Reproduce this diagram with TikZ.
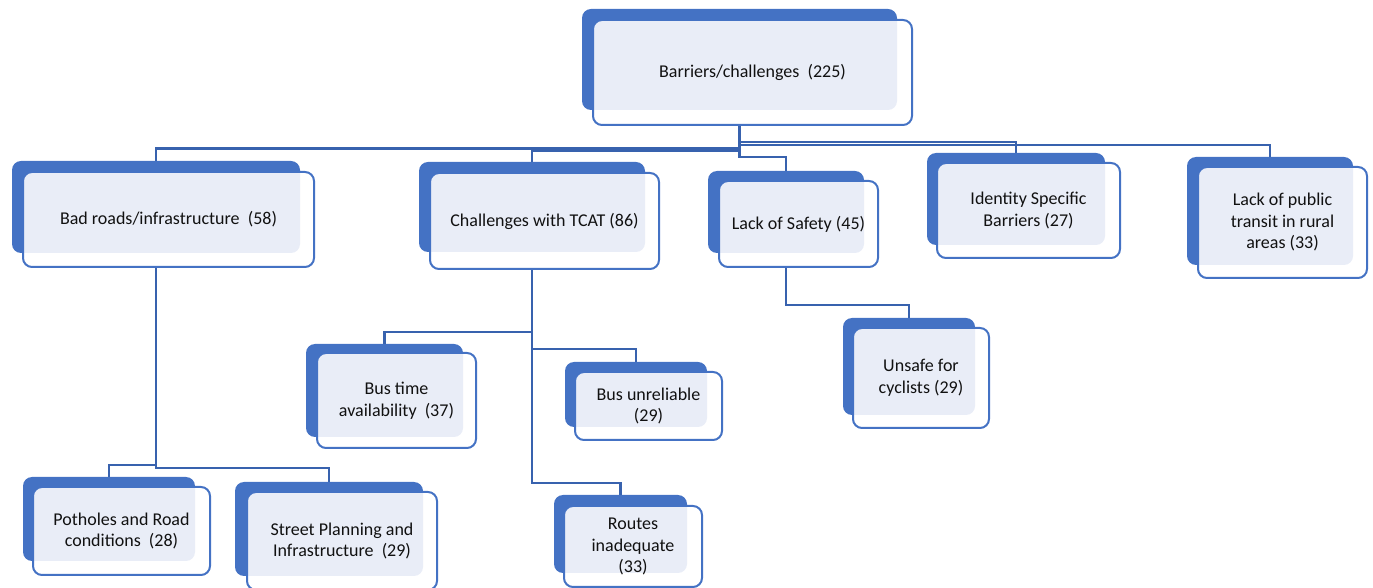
\documentclass[tikz,border=0pt]{standalone}
\usepackage{fontspec}
\setmainfont{Carlito}
\usetikzlibrary{fit,calc}
\pgfdeclarelayer{background}
\pgfsetlayers{background,main}
\definecolor{backc}{HTML}{4472C4}
\definecolor{lightc}{HTML}{E9EDF7}
\definecolor{connc}{HTML}{3862AE}
\definecolor{txtc}{HTML}{111111}
\newcommand\rc{4.5pt}
\newcommand\ebox[6]{%
  \node[backbox, fit={#2 #3}] (#1b) {};
  \fill[white, rounded corners=\rc] #4 rectangle #5;
  \begin{scope}
    \clip[rounded corners=\rc] #4 rectangle #5;
    \fill[lightc, rounded corners=\rc] #2 rectangle #3;
  \end{scope}
  \node[frontbox, fit={#4 #5}] (#1) {};
  \node[boxtext] (#1t) at (#1.center) {#6};
}
\tikzset{
  backbox/.style={fill=backc, rounded corners=\rc, inner sep=0pt, outer sep=0pt},
  frontbox/.style={draw=backc, line width=1pt, rounded corners=\rc, inner sep=0pt, outer sep=0pt},
  boxtext/.style={align=center, text=txtc, inner sep=0pt, anchor=center,
    font=\fontsize{9}{10.75}\selectfont},
  conn/.style={draw=connc, line width=1.1pt}
}
\begin{document}
\begin{tikzpicture}[x=0.5pt, y=-0.5pt]
\useasboundingbox (0,0) rectangle (1373,588);

\ebox{top}{(582,9)}{(897,110)}{(593,20)}{(912,125)}{Barriers/challenges~ (225)}
\ebox{bad}{(12,161)}{(300,253)}{(23,172)}{(314,267)}{Bad roads/infrastructure~ (58)}
\ebox{tcat}{(419,162)}{(645,252)}{(430,173)}{(659,269)}{Challenges with TCAT (86)}
\ebox{safe}{(708,171)}{(864,253)}{(719,181)}{(878,267)}{Lack of Safety (45)}
\ebox{ident}{(927,153)}{(1105,245)}{(937,163)}{(1120,258)}{Identity Specific\\Barriers (27)}
\ebox{rural}{(1187,157)}{(1353,265)}{(1198,167)}{(1367,278)}{Lack of public\\transit in rural\\areas (33)}
\ebox{unsafe}{(843,318)}{(975,415)}{(853,328)}{(989,428)}{Unsafe for\\cyclists (29)}
\ebox{bustime}{(306,344)}{(463,437)}{(317,353)}{(476,448)}{Bus time\\availability~ (37)}
\ebox{busunrel}{(565,362)}{(707,427)}{(575,372)}{(722,440)}{Bus unreliable\\(29)}
\ebox{pot}{(23,477)}{(195,561)}{(33,487)}{(210,575)}{Potholes and Road\\conditions~ (28)}
\ebox{street}{(235,482)}{(423,576)}{(247,492)}{(437,590)}{Street Planning and\\Infrastructure~ (29)}
\ebox{routes}{(554,495)}{(687,573)}{(564,506)}{(702,587)}{Routes\\inadequate\\(33)}

\begin{pgfonlayer}{background}
\draw[conn] (topb.south) |- ($(badb.north)+(0,-12.5)$) -- (badb.north);
\draw[conn] (topb.south) |- ($(tcatb.north)+(0,-11.5)$) -- (tcatb.north);
\draw[conn] (topb.south) |- ($(safeb.north)+(0,-14)$) -- (safeb.north);
\draw[conn] (topb.south) |- ($(identb.north)+(0,-11)$) -- (identb.north);
\draw[conn] (topb.south) |- ($(ruralb.north)+(0,-12)$) -- (ruralb.north);
\draw[conn] (tcatb.south) |- ($(bustimeb.north)+(0,-12)$) -- (bustimeb.north);
\draw[conn] (tcatb.south) |- ($(busunrelb.north)+(0,-13)$) -- (busunrelb.north);
\draw[conn] (tcatb.south) |- ($(routesb.north)+(0,-12)$) -- (routesb.north);
\draw[conn] (badb.south) |- ($(potb.north)+(0,-12)$) -- (potb.north);
\draw[conn] (badb.south) |- ($(streetb.north)+(0,-14)$) -- (streetb.north);
\draw[conn] (safeb.south) |- ($(unsafeb.north)+(0,-13)$) -- (unsafeb.north);
\end{pgfonlayer}
\end{tikzpicture}
\end{document}
